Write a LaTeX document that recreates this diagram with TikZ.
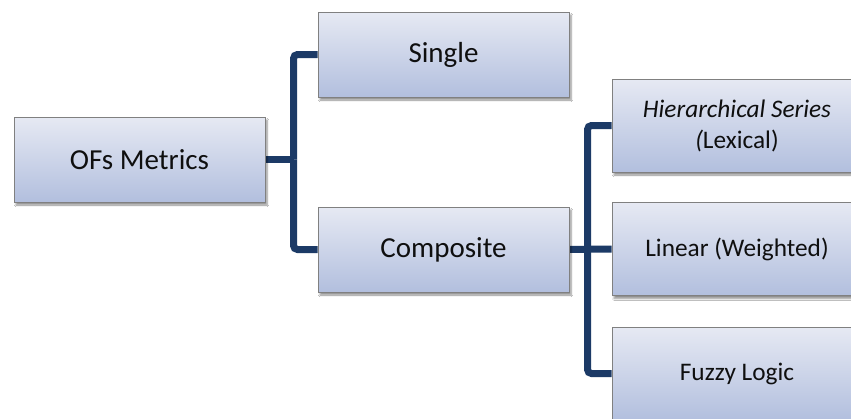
\documentclass[tikz,border=0pt]{standalone}
\usepackage{fontspec}
\setmainfont{Carlito}
\usetikzlibrary{shadows.blur,backgrounds}
\definecolor{topc}{RGB}{230,233,243}
\definecolor{botc}{RGB}{178,191,222}
\definecolor{edgec}{RGB}{128,128,128}
\definecolor{linec}{RGB}{28,58,102}
\definecolor{txtc}{RGB}{15,15,15}
\tikzset{
  box/.style={draw=edgec, line width=0.9pt, top color=topc, bottom color=botc,
    blur shadow={shadow xshift=2pt, shadow yshift=-3pt, shadow blur steps=6, shadow opacity=45},
    text=txtc, align=center, inner sep=0pt},
  bigbox/.style={box, minimum width=251pt, minimum height=85pt, font=\fontsize{29}{34}\selectfont},
  smallbox/.style={box, minimum width=250pt, minimum height=93pt, font=\fontsize{25.3}{31}\selectfont},
  conn/.style={draw=linec, line width=7pt, rounded corners=4pt}
}
\begin{document}
\begin{tikzpicture}[x=1pt,y=-1pt]
\clip (0,0) rectangle (851,418);
\node[bigbox] (ofs) at (139.5,159.5) {OFs Metrics};
\node[bigbox] (single) at (443.5,54.5) {Single};
\node[bigbox] (comp) at (443.5,249.5) {Composite};
\node[smallbox] (hier) at (737,125.5) {{\itshape Hierarchical Series}\\{\itshape (}Lexical)};
\node[smallbox] (lin) at (737,249) {Linear (Weighted)};
\node[smallbox] (fuzzy) at (737,373.5) {Fuzzy Logic};
\coordinate (j1) at (293.5,159.5);
\coordinate (j2) at (587.5,249);
\begin{scope}[on background layer]
\fill[white] (0,0) rectangle (851,418);
\draw[conn] (ofs.east) -- (j1);
\draw[conn] (j1) |- (single.west);
\draw[conn] (j1) |- (comp.west);
\draw[conn] (comp.east) -- (lin.west);
\draw[conn] (j2) |- (hier.west);
\draw[conn] (j2) |- (fuzzy.west);
\end{scope}
\end{tikzpicture}
\end{document}
